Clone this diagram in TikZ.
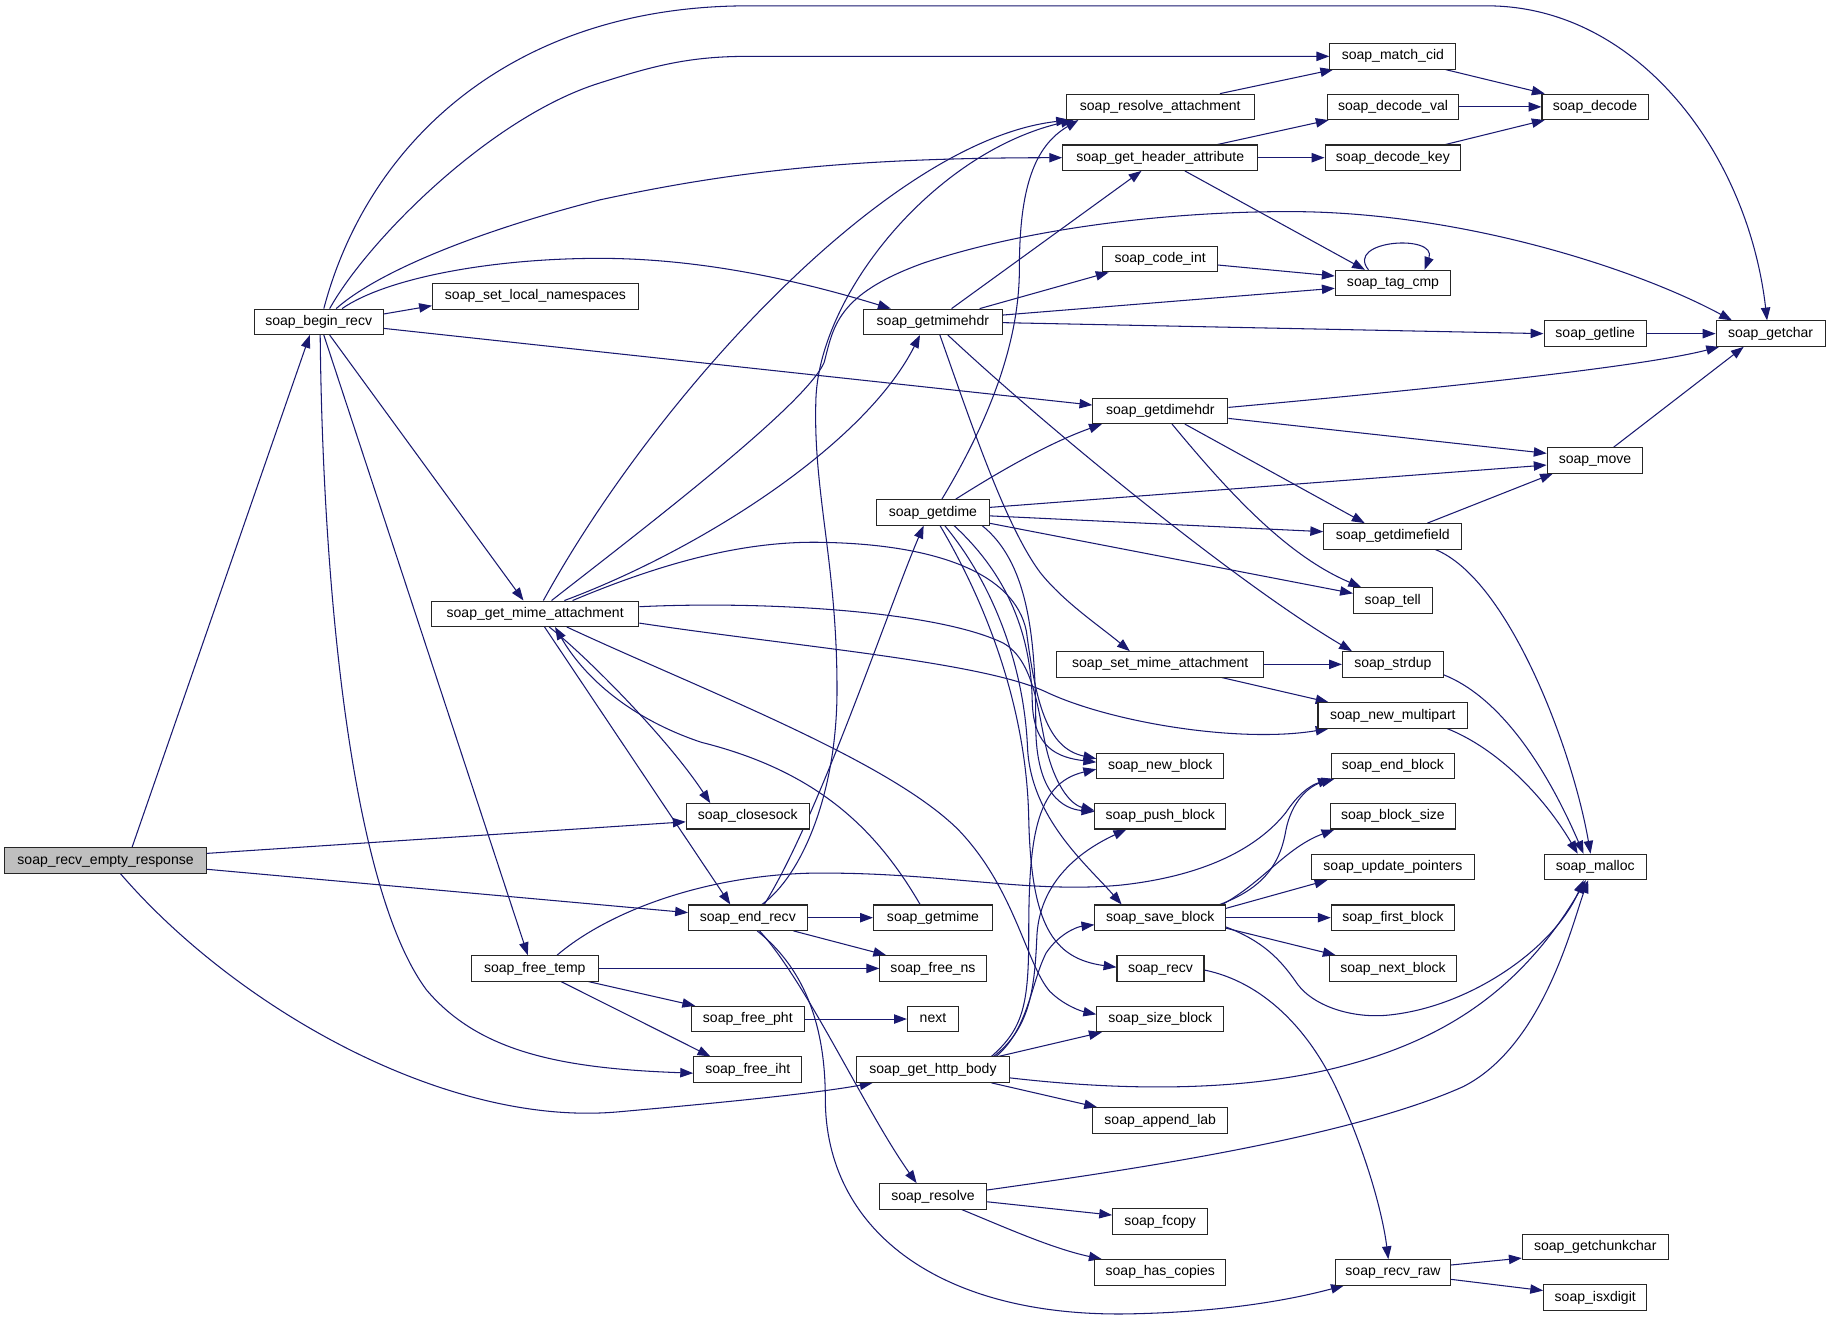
\documentclass[tikz,border=0pt]{standalone}
\usepackage{fontspec}
\setmainfont{Liberation Sans}
\usetikzlibrary{arrows.meta}
\definecolor{edgecol}{HTML}{191970}
\pgfdeclarelayer{bg}
\pgfsetlayers{bg,main}
\begin{document}
\begin{tikzpicture}[x=1pt,y=-1pt,
  box/.style={draw=black!85, line width=0.9pt, rectangle, minimum height=21.7pt, inner sep=0pt,
    text height=8.8pt, text depth=2.6pt, font=\fontsize{12}{14}\selectfont, fill=white},
  e/.style={draw=edgecol, line width=0.9pt, -{Triangle[length=11pt,width=8pt]}}]
\useasboundingbox (0,0) rectangle (1568,1132.6);
\begin{pgfonlayer}{bg}
\fill[white] (0,0) rectangle (1568,1132.6);
\end{pgfonlayer}
% nodes
\node[box, fill=black!25, minimum width=172.5pt] (recvempty) at (90.3,736) {soap\_recv\_empty\_response};
\node[box, minimum width=110.3pt] (beginrecv) at (272.6,275.3) {soap\_begin\_recv};
\node[box, minimum width=176pt] (sln) at (458,253.5) {soap\_set\_local\_namespaces};
\node[box, minimum width=177.2pt] (gma) at (457.8,525) {soap\_get\_mime\_attachment};
\node[box, minimum width=108.2pt] (freetemp) at (457.5,828.4) {soap\_free\_temp};
\node[box, minimum width=105.1pt] (closesock) at (639.6,698.3) {soap\_closesock};
\node[box, minimum width=101.4pt] (endrecv) at (639.7,785) {soap\_end\_recv};
\node[box, minimum width=96.6pt] (freepht) at (639.7,871.7) {soap\_free\_pht};
\node[box, minimum width=92.6pt] (freeiht) at (639.7,915) {soap\_free\_iht};
\node[box, minimum width=118.7pt] (getmimehdr) at (798,275.3) {soap\_getmimehdr};
\node[box, minimum width=97pt] (getdime) at (798.1,438.3) {soap\_getdime};
\node[box, minimum width=101.8pt] (getmime) at (798.1,785) {soap\_getmime};
\node[box, minimum width=91pt] (freens) at (798.1,828.4) {soap\_free\_ns};
\node[box, minimum width=43.7pt] (next) at (798.1,871.7) {next};
\node[box, minimum width=130.1pt] (httpbody) at (798.1,915) {soap\_get\_http\_body};
\node[box, minimum width=91pt] (resolve) at (798.1,1023.4) {soap\_resolve};
\node[box, minimum width=161pt] (resatt) at (992.5,91.4) {soap\_resolve\_attachment};
\node[box, minimum width=167pt] (hdrattr) at (992.5,134.9) {soap\_get\_header\_attribute};
\node[box, minimum width=98pt] (codeint) at (992.4,221.7) {soap\_code\_int};
\node[box, minimum width=115.4pt] (getdimehdr) at (992.6,351.5) {soap\_getdimehdr};
\node[box, minimum width=176.7pt] (setmime) at (992.5,568.3) {soap\_set\_mime\_attachment};
\node[box, minimum width=108.6pt] (newblock) at (992.5,655) {soap\_new\_block};
\node[box, minimum width=111.8pt] (pushblock) at (992.5,698.3) {soap\_push\_block};
\node[box, minimum width=111.8pt] (saveblock) at (992.5,785) {soap\_save\_block};
\node[box, minimum width=74.4pt] (recv) at (992.7,828.4) {soap\_recv};
\node[box, minimum width=108.6pt] (sizeblock) at (992.5,871.7) {soap\_size\_block};
\node[box, minimum width=115.2pt] (appendlab) at (992.5,958.4) {soap\_append\_lab};
\node[box, minimum width=81.2pt] (fcopy) at (992.4,1045) {soap\_fcopy};
\node[box, minimum width=111.8pt] (hascopies) at (992.5,1088.4) {soap\_has\_copies};
\node[box, minimum width=107.8pt] (matchcid) at (1191.5,48.2) {soap\_match\_cid};
\node[box, minimum width=112.2pt] (decodeval) at (1191.6,91.4) {soap\_decode\_val};
\node[box, minimum width=116pt] (decodekey) at (1191.5,134.9) {soap\_decode\_key};
\node[box, minimum width=98.7pt] (tagcmp) at (1191.6,242.1) {soap\_tag\_cmp};
\node[box, minimum width=118.1pt] (getdimefield) at (1191.4,458.8) {soap\_getdimefield};
\node[box, minimum width=67.2pt] (tell) at (1191.4,513.6) {soap\_tell};
\node[box, minimum width=86.2pt] (strdup) at (1191.5,568.3) {soap\_strdup};
\node[box, minimum width=128.1pt] (newmulti) at (1191.5,612) {soap\_new\_multipart};
\node[box, minimum width=105.8pt] (endblock) at (1191.5,655) {soap\_end\_block};
\node[box, minimum width=106.5pt] (blocksize) at (1191.5,698.3) {soap\_block\_size};
\node[box, minimum width=139.6pt] (updptr) at (1191.5,741.6) {soap\_update\_pointers};
\node[box, minimum width=105.6pt] (firstblock) at (1191.6,785) {soap\_first\_block};
\node[box, minimum width=108.8pt] (nextblock) at (1191.6,828.4) {soap\_next\_block};
\node[box, minimum width=98.7pt] (recvraw) at (1191.6,1088.4) {soap\_recv\_raw};
\node[box, minimum width=90.7pt] (decode) at (1364.4,91.4) {soap\_decode};
\node[box, minimum width=87.6pt] (getline) at (1364.6,285.4) {soap\_getline};
\node[box, minimum width=81.8pt] (move) at (1364.4,393.8) {soap\_move};
\node[box, minimum width=87.6pt] (malloc) at (1364.6,741.6) {soap\_malloc};
\node[box, minimum width=124.8pt] (getchunk) at (1364.6,1066.7) {soap\_getchunkchar};
\node[box, minimum width=88.2pt] (isxdigit) at (1364.6,1110) {soap\_isxdigit};
\node[box, minimum width=93.2pt] (getchar) at (1514.6,285.4) {soap\_getchar};
\begin{pgfonlayer}{bg}
% recv_empty_response
\draw[e] ([xshift=22.7pt]recvempty.north) -- ([xshift=-7.6pt]beginrecv.south);
\draw[e] ([yshift=6pt]recvempty.east) -- ([yshift=-4.7pt]closesock.west);
\draw[e] ([yshift=-7.6pt]recvempty.east) -- ([yshift=4.3pt]endrecv.west);
\draw[e] ([xshift=12.7pt]recvempty.south) .. controls (200,860) and (380,965) .. (530,951) .. controls (620,943) and (700,935) .. ([xshift=-51.6pt]httpbody.south);
% begin_recv
\draw[e] ([yshift=6.7pt]beginrecv.east) -- ([yshift=-8pt]sln.west);
\draw[e] ([xshift=4.4pt]beginrecv.north) .. controls (315,120) and (440,5) .. (640,5) -- (1272,5) .. controls (1400,5) and (1495,130) .. ([xshift=-3pt]getchar.north);
\draw[e] ([xshift=9.4pt]beginrecv.north) .. controls (315,205) and (420,100) .. (513,71) .. controls (560,56) and (590,48.2) .. (640,48.2) -- (matchcid.west);
\draw[e] ([xshift=15pt]beginrecv.north) .. controls (320,235) and (400,200) .. (513,171) .. controls (620,148) and (720,135) .. (hdrattr.west);
\draw[e] ([xshift=20pt]beginrecv.north) .. controls (330,238) and (420,221) .. (513,221) .. controls (610,221) and (700,245) .. ([xshift=-36pt]getmimehdr.north);
\draw[e] ([yshift=-5.6pt]beginrecv.east) -- ([yshift=5pt]getdimehdr.west);
\draw[e] ([xshift=9.4pt]beginrecv.south) -- ([xshift=-10pt]gma.north);
\draw[e] ([xshift=4.4pt]beginrecv.south) -- ([xshift=-6pt]freetemp.north);
\draw[e] ([xshift=1.3pt]beginrecv.south) .. controls (276,500) and (300,760) .. (365,847) .. controls (410,900) and (480,914) .. ([yshift=-3pt]freeiht.west);
% get_mime_attachment
\draw[e] ([xshift=7pt]gma.north) .. controls (560,340) and (760,120) .. ([xshift=-78pt]resatt.south);
\draw[e] ([xshift=14pt]gma.north) .. controls (560,445) and (690,345) .. (705,310) .. controls (713,280) and (715,252) .. (790,225) .. controls (880,195) and (1000,181) .. (1102.7,181) .. controls (1250,181) and (1400,230) .. ([xshift=-33pt]getchar.north);
\draw[e] ([xshift=25pt]gma.north) .. controls (600,470) and (740,380) .. ([xshift=-11pt]getmimehdr.south);
\draw[e] ([xshift=32pt]gma.north) .. controls (570,480) and (640,462) .. (706,464) .. controls (800,466) and (868,490) .. (878,540) .. controls (886,600) and (895,640) .. ([yshift=6pt]newblock.west);
\draw[e] ([yshift=6pt]gma.east) .. controls (650,514) and (800,522) .. (858,550) .. controls (885,565) and (888,610) .. (895,640) .. controls (902,670) and (915,688) .. ([yshift=5pt]pushblock.west);
\draw[e] ([yshift=-8pt]gma.east) .. controls (680,553) and (840,566) .. (895,592) .. controls (950,618) and (1060,636) .. ([xshift=-55pt]newmulti.south);
\draw[e] ([xshift=27pt]gma.south) .. controls (600,590) and (760,650) .. (820,710) .. controls (868,760) and (878,825) .. (898,848) .. controls (910,860) and (925,865) .. ([yshift=4pt]sizeblock.west);
\draw[e] ([xshift=12pt]gma.south) .. controls (500,560) and (570,630) .. ([xshift=-32pt]closesock.north);
\draw[e] ([xshift=8pt]gma.south) -- ([xshift=-15pt]endrecv.north);
\draw[e] ([xshift=-11pt]getmime.north) .. controls (750,710) and (700,660) .. (600,635) .. controls (540,615) and (500,580) .. ([xshift=17pt]gma.south);
% end_recv
\draw[e] ([xshift=12pt]endrecv.north) .. controls (685,750) and (716,680) .. (716,590) .. controls (716,480) and (695,420) .. (698,340) .. controls (702,250) and (800,130) .. ([xshift=-74pt]resatt.south);
\draw[e] ([xshift=14pt]endrecv.north) .. controls (700,700) and (760,520) .. ([xshift=-8pt]getdime.south);
\draw[e] (endrecv.east) -- (getmime.west);
\draw[e] ([xshift=39pt]endrecv.south) -- ([xshift=-40pt]freens.north);
\draw[e] ([xshift=10pt]endrecv.south) .. controls (690,840) and (740,950) .. ([xshift=-14pt]resolve.north);
\draw[e] ([xshift=8pt]endrecv.south) .. controls (690,830) and (706,880) .. (706,940) .. controls (706,1050) and (800,1125) .. (960,1124) .. controls (1040,1123) and (1100,1113) .. ([xshift=-42pt]recvraw.south);
% free_temp
\draw[e] ([xshift=19pt]freetemp.north) .. controls (520,780) and (600,750) .. (690,747) .. controls (800,745) and (880,765) .. (960,757) .. controls (1040,748) and (1080,720) .. (1100,695) .. controls (1110,680) and (1120,672) .. ([xshift=-53pt]endblock.south);
\draw[e] (freetemp.east) -- (freens.west);
\draw[e] ([xshift=46pt]freetemp.south) -- ([xshift=-45pt]freepht.north);
\draw[e] ([xshift=22.5pt]freetemp.south) -- ([xshift=-32pt]freeiht.north);
\draw[e] (freepht.east) -- (next.west);
% getmimehdr
\draw[e] ([xshift=16pt]getmimehdr.north) -- ([xshift=-16pt]hdrattr.south);
\draw[e] ([xshift=40pt]getmimehdr.north) -- ([xshift=-44pt]codeint.south);
\draw[e] ([yshift=5.8pt]getmimehdr.east) -- ([yshift=-4.5pt]tagcmp.west);
\draw[e] ([yshift=-0.7pt]getmimehdr.east) -- (getline.west);
\draw[e] ([xshift=6pt]getmimehdr.south) .. controls (830,360) and (860,450) .. (890,490) .. controls (910,515) and (940,535) .. ([xshift=-26pt]setmime.north);
\draw[e] ([xshift=12.8pt]getmimehdr.south) .. controls (900,370) and (1060,500) .. ([xshift=-35pt]strdup.north);
% getdime
\draw[e] ([xshift=7.6pt]getdime.north) .. controls (840,370) and (872,300) .. (872,230) .. controls (872,160) and (885,125) .. ([xshift=-70pt]resatt.south);
\draw[e] ([xshift=19.4pt]getdime.north) .. controls (860,400) and (900,378) .. ([xshift=-50pt]getdimehdr.south);
\draw[e] ([yshift=4.3pt]getdime.east) -- ([yshift=-4pt]move.west);
\draw[e] ([yshift=-3pt]getdime.east) -- ([yshift=4pt]getdimefield.west);
\draw[e] ([yshift=-9.4pt]getdime.east) -- ([yshift=6pt]tell.west);
\draw[e] ([xshift=6pt]getdime.south) .. controls (840,510) and (878,600) .. (880,700) .. controls (882,790) and (900,820) .. ([yshift=1pt]recv.west);
\draw[e] ([xshift=10pt]getdime.south) .. controls (850,500) and (876,570) .. (879,640) .. controls (882,700) and (930,740) .. ([xshift=-33pt]saveblock.north);
\draw[e] ([xshift=18pt]getdime.south) .. controls (860,490) and (882,540) .. (883,600) .. controls (884,640) and (905,648) .. ([yshift=3pt]newblock.west);
\draw[e] ([xshift=42pt]getdime.south) .. controls (878,480) and (886,540) .. (886,620) .. controls (886,680) and (910,692) .. ([yshift=4pt]pushblock.west);
% get_http_body
\draw[e] ([xshift=50pt]httpbody.north) .. controls (875,880) and (880,860) .. (880,800) .. controls (880,720) and (885,670) .. ([yshift=-3pt]newblock.west);
\draw[e] ([xshift=52pt]httpbody.north) .. controls (880,880) and (885,850) .. (887,800) .. controls (890,750) and (930,725) .. ([xshift=-29pt]pushblock.south);
\draw[e] ([xshift=54pt]httpbody.north) .. controls (880,880) and (882,840) .. (895,815) .. controls (905,800) and (920,793) .. ([yshift=-6pt]saveblock.west);
\draw[e] ([xshift=56pt]httpbody.north) -- ([xshift=-50pt]sizeblock.south);
\draw[e] ([xshift=50pt]httpbody.south) -- ([xshift=-54pt]appendlab.north);
\draw[e] ([yshift=-7pt]httpbody.east) .. controls (950,932) and (1050,935) .. (1136.5,915) .. controls (1230,893) and (1300,850) .. ([xshift=-8pt]malloc.south);
% resolve
\draw[e] ([yshift=5.4pt]resolve.east) .. controls (950,1003) and (1150,975) .. (1251.5,929.6) .. controls (1320,895) and (1345,790) .. ([xshift=-6pt]malloc.south);
\draw[e] ([yshift=-4.6pt]resolve.east) -- ([yshift=5.6pt]fcopy.west);
\draw[e] ([xshift=24.6pt]resolve.south) .. controls (860,1050) and (900,1068) .. ([xshift=-50pt]hascopies.north);
% recv
\draw[e] ([yshift=-1.4pt]recv.east) .. controls (1080,840) and (1120,880) .. (1145,935) .. controls (1170,990) and (1183,1040) .. ([xshift=-4pt]recvraw.north);
\draw[e] ([yshift=6.3pt]recvraw.east) -- ([yshift=-9.5pt]getchunk.west);
\draw[e] ([yshift=-6pt]recvraw.east) -- ([yshift=6pt]isxdigit.west);
% save_block
\draw[e] ([xshift=51pt]saveblock.north) .. controls (1080,760) and (1095,740) .. (1100,710) .. controls (1105,685) and (1120,672) .. ([xshift=-50pt]endblock.south);
\draw[e] ([xshift=53pt]saveblock.north) .. controls (1080,755) and (1100,725) .. ([xshift=-50pt]blocksize.south);
\draw[e] ([yshift=8pt]saveblock.east) -- ([xshift=-56pt]updptr.south);
\draw[e] (saveblock.east) -- (firstblock.west);
\draw[e] ([yshift=-9pt]saveblock.east) -- ([xshift=-49pt]nextblock.north);
\draw[e] ([yshift=-8pt]saveblock.east) .. controls (1080,805) and (1095,820) .. (1110,842) .. controls (1125,862) and (1160,872) .. (1190.6,868) .. controls (1260,860) and (1330,810) .. ([xshift=-10pt]malloc.south);
% right part
\draw[e] ([xshift=36.4pt]getdimefield.south) .. controls (1290,495) and (1345,640) .. ([xshift=-4pt]malloc.north);
\draw[e] ([yshift=-9pt]strdup.east) .. controls (1280,595) and (1320,650) .. ([xshift=-10pt]malloc.north);
\draw[e] ([xshift=46.5pt]newmulti.south) .. controls (1280,640) and (1320,680) .. ([xshift=-15pt]malloc.north);
\draw[e] ([xshift=29.6pt]getdimefield.north) -- ([xshift=-36pt]move.south);
\draw[e] ([yshift=-6.4pt]getdimehdr.east) -- ([yshift=6pt]move.west);
\draw[e] ([xshift=16pt]move.north) -- ([xshift=-23pt]getchar.south);
\draw[e] ([yshift=3pt]getdimehdr.east) .. controls (1200,335) and (1400,315) .. ([xshift=-44pt]getchar.south);
\draw[e] (getline.east) -- (getchar.west);
\draw[e] ([xshift=21pt]getdimehdr.south) -- ([xshift=-24pt]getdimefield.north);
\draw[e] ([xshift=10pt]getdimehdr.south) .. controls (1050,420) and (1100,475) .. ([xshift=-27pt]tell.north);
\draw[e] (setmime.east) -- (strdup.west);
\draw[e] ([xshift=52.7pt]setmime.south) -- ([xshift=-55pt]newmulti.north);
\draw[e] ([xshift=-21pt]tagcmp.north) .. controls (1150,205) and (1230,200) .. ([xshift=27pt]tagcmp.north);
\draw[e] ([yshift=-5pt]codeint.east) -- ([yshift=6pt]tagcmp.west);
\draw[e] ([xshift=21pt]hdrattr.south) -- ([xshift=-24pt]tagcmp.north);
\draw[e] ([xshift=49pt]hdrattr.north) -- ([xshift=-55pt]decodeval.south);
\draw[e] (hdrattr.east) -- (decodekey.west);
\draw[e] (decodeval.east) -- (decode.west);
\draw[e] ([xshift=45pt]decodekey.north) -- ([xshift=-43pt]decode.south);
\draw[e] ([xshift=45pt]matchcid.south) -- ([xshift=-43pt]decode.north);
\draw[e] ([xshift=51pt]resatt.north) -- ([xshift=-51pt]matchcid.south);
\end{pgfonlayer}
\end{tikzpicture}
\end{document}
